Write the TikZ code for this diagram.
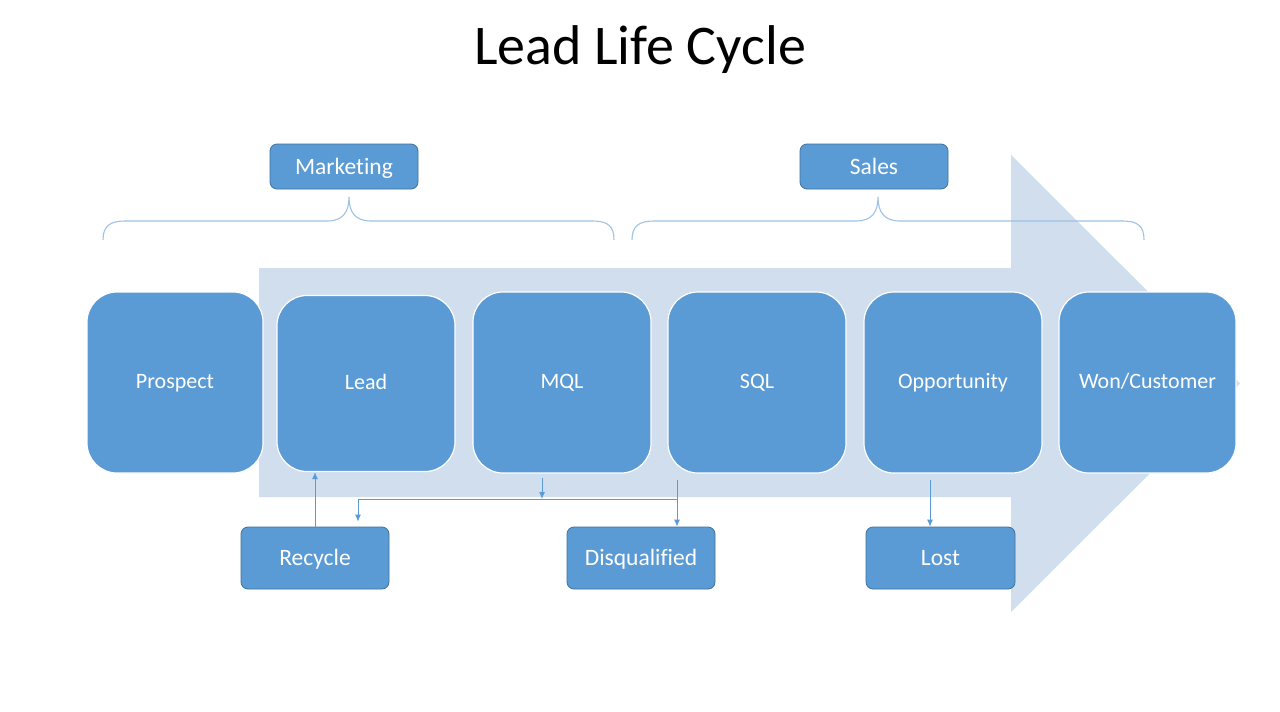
\documentclass[tikz,border=0pt]{standalone}
\usepackage{fontspec}
\setmainfont[Ligatures=NoCommon]{Carlito}
\usetikzlibrary{arrows.meta}
\definecolor{boxblue}{RGB}{91,155,213}
\definecolor{boxedge}{RGB}{65,113,156}
\definecolor{arrowbg}{RGB}{208,222,238}
\definecolor{bracecol}{RGB}{157,195,230}
\begin{document}
\begin{tikzpicture}[x=1pt,y=-1pt,
  bigbox/.style={rectangle, rounded corners=30pt, fill=boxblue, draw=white, line width=1.2pt,
    text=white, font=\fontsize{22}{26}\selectfont, inner sep=0pt, text height=14pt, text depth=2pt},
  smallbox/.style={rectangle, rounded corners=7pt, fill=boxblue, draw=boxedge, line width=0.8pt,
    text=white, font=\fontsize{23.5}{28}\selectfont, inner sep=0pt, text height=15pt, text depth=0pt},
  conn/.style={draw=boxblue, line width=1pt, -{Latex[length=7pt,width=6pt]}},
  bracestyle/.style={draw=bracecol, line width=1.1pt}]
\useasboundingbox (0,0) rectangle (1280,712);
\fill[white] (0,0) rectangle (1280,712);

% title
\node[font=\fontsize{56}{64}\selectfont, text=black, anchor=base] (title) at (640,64) {Lead Life Cycle};

% background arrow
\fill[arrowbg] (259,268) -- (1011,268) -- (1011,155) -- (1240,383.5) -- (1011,612) -- (1011,497) -- (259,497) -- cycle;

% braces
\draw[bracestyle] (103,240) .. controls (103,226) and (110,221) .. (125,221) -- (327,221)
  .. controls (343,221) and (349,212) .. (349,197)
  .. controls (349,212) and (355,221) .. (371,221) -- (592,221)
  .. controls (608,221) and (614,226) .. (614,240);
\draw[bracestyle] (632,240) .. controls (632,226) and (639,221) .. (654,221) -- (856,221)
  .. controls (872,221) and (878,212) .. (878,197)
  .. controls (878,212) and (884,221) .. (900,221) -- (1122,221)
  .. controls (1138,221) and (1144,226) .. (1144,240);

% label boxes
\node[smallbox, minimum width=148pt, minimum height=45pt] (Marketing) at (344,166.5) {Marketing};
\node[smallbox, minimum width=148pt, minimum height=45pt] (Sales) at (874,166.5) {Sales};

% stage boxes
\node[bigbox, minimum width=176pt, minimum height=181pt] (Prospect) at (175,382.5) {Prospect};
\node[bigbox, minimum width=178pt, minimum height=176pt] (Lead) at (366,383.5) {Lead};
\node[bigbox, minimum width=178pt, minimum height=181pt] (MQL) at (562,382.5) {MQL};
\node[bigbox, minimum width=178pt, minimum height=181pt] (SQL) at (757,382.5) {SQL};
\node[bigbox, minimum width=178pt, minimum height=181pt] (Opp) at (953,382.5) {Opportunity};
\node[bigbox, minimum width=177pt, minimum height=181pt] (Won) at (1147.5,382.5) {Won/Customer};

% outcome boxes
\node[smallbox, minimum width=148pt, minimum height=62pt] (Recycle) at (315,558) {Recycle};
\node[smallbox, minimum width=148pt, minimum height=62pt] (Disq) at (641,558) {Disqualified};
\node[smallbox, minimum width=149pt, minimum height=62pt] (Lost) at (940.5,558) {Lost};

% connector points
\coordinate (mqlout) at (542,478);
\coordinate (split) at (542,499);
\coordinate (sqlout) at (677,480);
\coordinate (bend) at (677,499);
\coordinate (recin) at (358,499);
\coordinate (oppout) at (930,480);

% connectors
\draw[conn] (Recycle.north) -- (Recycle.north |- Lead.south);
\draw[conn] (mqlout) -- (split);
\draw[conn] (sqlout) -- (Disq.north -| sqlout);
\draw[conn, shorten >=5pt] (bend) -- (recin) -- (Recycle.north -| recin);
\draw[conn] (oppout) -- (Lost.north -| oppout);
\end{tikzpicture}
\end{document}
